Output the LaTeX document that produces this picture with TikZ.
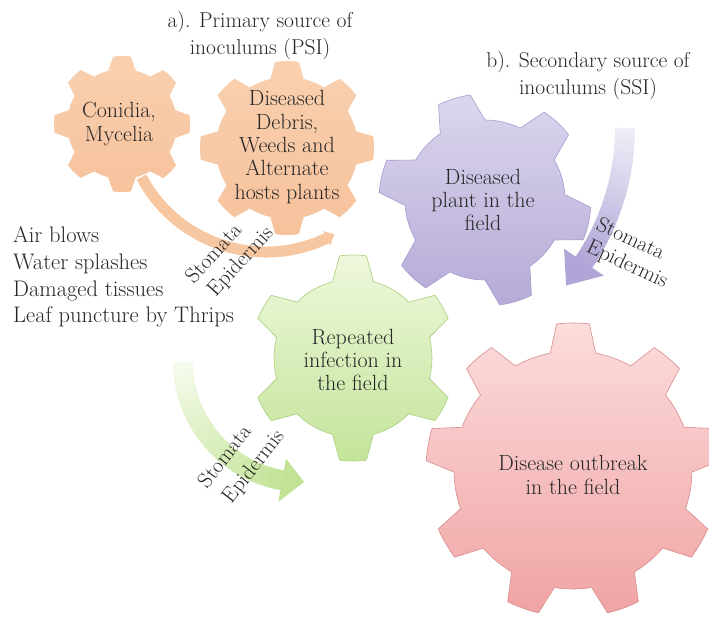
\documentclass[tikz,border=0pt]{standalone}
\usetikzlibrary{calc}
\definecolor{txt}{HTML}{262626}
\definecolor{orgA}{HTML}{F9D0AF}
\definecolor{orgB}{HTML}{F6C29C}
\definecolor{purA}{HTML}{DCD6EE}
\definecolor{purB}{HTML}{B5AAD6}
\definecolor{purE}{HTML}{A89CCF}
\definecolor{grnA}{HTML}{EEF8DC}
\definecolor{grnB}{HTML}{C4E49A}
\definecolor{grnE}{HTML}{A9CF7C}
\definecolor{redA}{HTML}{FCDCDC}
\definecolor{redB}{HTML}{F0A4A4}
\definecolor{redE}{HTML}{D98C8C}
\definecolor{parA}{HTML}{F1EEF8}
\definecolor{parB}{HTML}{B0A5D6}
\definecolor{garA}{HTML}{F6FBEC}
\definecolor{garB}{HTML}{C2E396}
\definecolor{oarc}{HTML}{F6C7A1}

% gear: #1 style, #2 cx, #3 cy, #4 teeth, #5 r inner, #6 r outer, #7 base half-angle, #8 tip half-angle, #9 phase
\newcommand\gearshape[9]{%
\begin{scope}[shift={(#2,#3)}]
\path[#1] (#9-#7:#5pt)
  \foreach \k [evaluate=\k as \gt using {#9+(\k-1)*360/#4}] in {1,...,#4} {
    -- (\gt-#7:#5pt) -- (\gt-#8:#6pt)
    arc[start angle=\gt-#8, end angle=\gt+#8, radius=#6pt]
    -- (\gt+#7:#5pt)
    arc[start angle=\gt+#7, end angle=\gt+360/#4-#7, radius=#5pt]
  } -- cycle;
\end{scope}}

% gradient arc: #1 centre name, #2 R, #3 start, #4 end, #5 width, #6 colour1, #7 colour2, #8 N
\newcommand\gradarc[8]{%
  \foreach \i in {1,...,#8}{%
    \pgfmathsetmacro\aa{#3+(#4-#3)*(\i-1)/#8}%
    \pgfmathsetmacro\bb{#3+(#4-#3)*\i/#8+0.4*sign(#4-#3)}%
    \pgfmathtruncatemacro\pc{100*(\i-0.5)/#8}%
    \draw[line width=#5pt, color=#7!\pc!#6]
      ([shift={(\aa:#2pt)}]#1) arc[start angle=\aa, end angle=\bb, radius=#2pt];
  }}

\tikzset{
  geartext/.style={text=txt, align=center, font=\fontsize{22}{23.3}\selectfont, inner sep=0pt},
  titletext/.style={text=txt, align=center, font=\fontsize{21.5}{27}\selectfont, inner sep=0pt},
  labeltext/.style={text=txt, font=\fontsize{21.5}{23}\selectfont, inner sep=0pt},
  listtext/.style={text=txt, align=left, font=\fontsize{22.5}{26.7}\selectfont, inner sep=0pt},
}

\begin{document}
\begin{tikzpicture}[x=1pt,y=1pt]
\useasboundingbox (0,0) rectangle (709,-620);
\clip (0,0) rectangle (709,-620);
\fill[white] (0,0) rectangle (709,-620);

% ---- orange arc between the primary gears
\coordinate (oC) at (266,-111);
\draw[line width=11pt, color=oarc] ([shift={(-152:141pt)}]oC) arc[start angle=-152, end angle=-64, radius=141pt];
\fill[oarc] ([shift={(-64.5:133pt)}]oC) -- ([shift={(-61:141pt)}]oC) -- ([shift={(-64.5:149pt)}]oC) -- cycle;

% ---- gears
\gearshape{top color=orgA, bottom color=orgB}{122}{-124}{8}{55}{68}{14.5}{7.5}{90}
\gearshape{top color=orgA, bottom color=orgB}{287}{-148}{8}{71}{87}{13.5}{7.8}{90}
\gearshape{top color=purA, bottom color=purB, draw=purE, line width=0.6pt}{485}{-200}{6}{80}{106}{17}{9}{47}
\gearshape{top color=grnA, bottom color=grnB, draw=grnE, line width=0.6pt}{353}{-358}{6}{79}{103}{15}{7.5}{90}
\gearshape{top color=redA, bottom color=redB, draw=redE, line width=0.6pt}{573}{-470}{9}{119}{147}{11}{6.4}{90}

% ---- purple arrow (secondary source)
\coordinate (pC) at (385,-128);
\gradarc{pC}{240}{0}{-34}{20}{parA}{parB}{24}
\fill[parB] ([shift={(-34:216pt)}]pC) -- ([shift={(-41:240pt)}]pC) -- ([shift={(-34:264pt)}]pC) -- cycle;

% ---- green arrow
\coordinate (gC) at (303,-362);
\gradarc{gC}{120}{180}{260}{20}{garA}{garB}{24}
\fill[garB] ([shift={(260:98pt)}]gC) -- ([shift={(270.5:120pt)}]gC) -- ([shift={(260:142pt)}]gC) -- cycle;

% ---- texts
\node[titletext] (titleA) at (260,-36) {a). Primary source of\\inoculums (PSI)};
\node[titletext] (titleB) at (588,-76) {b). Secondary source of\\inoculums (SSI)};
\node[geartext] (conidia) at (119,-124) {Conidia,\\Mycelia};
\node[geartext] (debris) at (287,-147) {Diseased\\Debris,\\Weeds and\\Alternate\\hosts plants};
\node[geartext] (diseased) at (483,-200) {Diseased\\plant in the\\field};
\node[geartext] (repeated) at (353,-360) {Repeated\\infection in\\the field};
\node[geartext] (outbreak) at (573,-475) {Disease outbreak\\in the field};
\node[listtext, anchor=west] (list) at (13,-277) {Air blows\\Water splashes\\Damaged tissues\\Leaf puncture by Thrips};
\node[labeltext, rotate=48] (stomA1) at (213,-253) {Stomata};
\node[labeltext, rotate=48] (stomA2) at (241,-262) {Epidermis};
\node[labeltext, rotate=-25] (stomB1) at (631,-238) {Stomata};
\node[labeltext, rotate=-25] (stomB2) at (627,-265) {Epidermis};
\node[labeltext, rotate=52] (stomC1) at (224,-456) {Stomata};
\node[labeltext, rotate=52] (stomC2) at (254,-467) {Epidermis};
\end{tikzpicture}
\end{document}
